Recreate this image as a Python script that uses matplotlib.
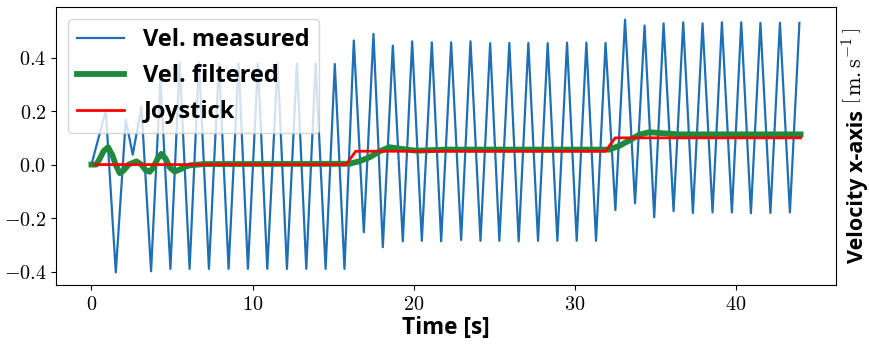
import matplotlib
matplotlib.use("Agg")
import matplotlib.pyplot as plt
from matplotlib.ticker import FuncFormatter

# ---- data ----
t_meas = [0.0, 0.89, 1.51, 2.13, 2.56, 3.10, 3.70, 4.28, 4.90, 5.47, 6.09, 6.67, 7.29,
          7.91, 8.51, 9.13, 9.71, 10.33, 10.91, 11.55, 12.13, 12.75, 13.33, 13.91, 14.53,
          15.10, 15.70, 16.28, 16.90, 17.50, 18.08, 18.70, 19.32, 19.90, 20.50, 21.12,
          21.70, 22.32, 22.94, 23.52, 24.14, 24.74, 25.31, 25.93, 26.51, 27.11, 27.71,
          28.31, 28.91, 29.51, 30.11, 30.71, 31.31, 31.90, 32.51, 33.11, 33.73, 34.32,
          34.92, 35.50, 36.12, 36.72, 37.32, 37.92, 38.54, 39.12, 39.74, 40.32, 40.92,
          41.51, 42.13, 42.72, 43.34, 43.93]
v_meas = [0.0, 0.202, -0.403, 0.168, 0.037, 0.216, -0.399, 0.32, -0.39, 0.382, -0.39,
          0.382, -0.39, 0.378, -0.39, 0.378, -0.39, 0.378, -0.39, 0.378, -0.39, 0.378,
          -0.39, 0.378, -0.39, 0.376, -0.39, 0.464, -0.253, 0.489, -0.309, 0.445, -0.287,
          0.461, -0.285, 0.457, -0.287, 0.457, -0.282, 0.461, -0.285, 0.454, -0.285,
          0.455, -0.287, 0.455, -0.285, 0.454, -0.285, 0.456, -0.285, 0.456, -0.285,
          0.455, -0.170, 0.542, -0.145, 0.520, -0.197, 0.528, -0.174, 0.532, -0.181,
          0.528, -0.179, 0.532, -0.179, 0.532, -0.182, 0.530, -0.181, 0.530, -0.179, 0.530]

t_filt = [0.0, 0.3, 0.5, 0.75, 1.03, 1.3, 1.5, 1.75, 2.0, 2.3, 2.79, 3.1, 3.35, 3.61,
          3.85, 4.1, 4.34, 4.6, 4.85, 5.16, 5.5, 5.8, 6.09, 7.0, 16.0, 16.6, 17.25, 17.9,
          18.49, 19.3, 20.14, 22.0, 32.13, 32.75, 33.37, 34.0, 34.61, 35.5, 36.47, 44.0]
v_filt = [0.0, 0.0, 0.02, 0.05, 0.065, 0.035, 0.0, -0.032, -0.022, 0.0, 0.012, 0.0,
          -0.02, -0.027, -0.01, 0.022, 0.04, 0.022, -0.01, -0.026, -0.018, -0.008, -0.003,
          0.002, 0.003, 0.012, 0.027, 0.05, 0.065, 0.058, 0.052, 0.056, 0.056, 0.07, 0.09,
          0.112, 0.121, 0.117, 0.113, 0.113]

t_joy = [0.2, 15.8, 16.4, 31.9, 32.5, 44.0]
v_joy = [0.0, 0.0, 0.05, 0.05, 0.1, 0.1]

labels = ["Vel. measured", "Vel. filtered", "Joystick"]
x_ticks = [0, 10, 20, 30, 40]
y_ticks = [-0.4, -0.2, 0.0, 0.2, 0.4]
x_label = "Time [s]"
y_label_text = "Velocity x-axis"
y_label_unit = r"$\left[\,\mathrm{m{.}s}^{-1}\,\right]$"

# ---- style ----
plt.rcParams['mathtext.fontset'] = 'cm'
plt.rcParams['font.family'] = ['Open Sans', 'DejaVu Sans']

fig = plt.figure(figsize=(8.69, 3.45), dpi=100)
ax = fig.add_axes([56/869, 1-285/345, (836-56)/869, (285-7)/345])

ax.plot(t_meas, v_meas, color='#1f6fb4', lw=1.6, label=labels[0])
ax.plot(t_filt, v_filt, color='#1f8a3c', lw=4.2, solid_joinstyle='round',
        label=labels[1])
ax.plot(t_joy, v_joy, color='#ff0000', lw=2.0, label=labels[2])

ax.set_xticks(x_ticks)
ax.set_yticks(y_ticks)
ax.xaxis.set_major_formatter(FuncFormatter(lambda x, p: r'$%d$' % round(x)))
ax.yaxis.set_major_formatter(FuncFormatter(lambda y, p: r'$%.1f$' % y))
ax.tick_params(labelsize=14.5)

ax.set_xlabel(x_label, fontsize=16.3, fontweight='bold', labelpad=1)

# y label on the right: bold text part + larger math units part
ax.text(1.0346, 0.079, y_label_text, transform=ax.transAxes, rotation=90,
        rotation_mode='anchor', ha='left', va='baseline', fontsize=15.5,
        fontweight='bold')
ax.text(1.0346, 0.652, y_label_unit, transform=ax.transAxes, rotation=90,
        rotation_mode='anchor', ha='left', va='baseline', fontsize=16)

leg = ax.legend(loc='upper left', prop={'size': 17, 'weight': 'bold'})

fig.savefig('out.png', dpi=100)
